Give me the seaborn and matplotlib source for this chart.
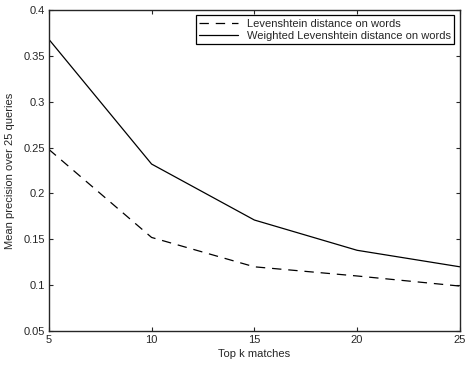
import pandas as pd
import matplotlib.pyplot as plt
import seaborn as sns

top_k = [5, 10, 15, 20, 25]
lev_words = [0.248, 0.152, 0.120, 0.110, 0.099]
weighted_lev_words = [0.368, 0.232, 0.171, 0.138, 0.120]
labels = ["Levenshtein distance on words", "Weighted Levenshtein distance on words"]

df = pd.concat([
    pd.DataFrame({"k": top_k, "precision": lev_words, "method": labels[0]}),
    pd.DataFrame({"k": top_k, "precision": weighted_lev_words, "method": labels[1]}),
])

sns.set_style("ticks")
plt.rcParams["font.family"] = ["Liberation Sans", "DejaVu Sans"]
plt.rcParams["font.size"] = 8

fig = plt.figure(figsize=(4.65, 3.67), dpi=100)
ax = fig.add_axes([0.105, 0.098, 0.884, 0.875])

sns.lineplot(data=df, x="k", y="precision", hue="method", style="method",
             palette=["black", "black"], dashes=[(7.5, 5.5), ""], linewidth=0.9, ax=ax)

ax.set_xlim(5, 25)
ax.set_ylim(0.05, 0.4)
ax.set_xticks(top_k)
ax.set_yticks([0.05, 0.1, 0.15, 0.2, 0.25, 0.3, 0.35, 0.4])
ax.set_yticklabels(["0.05", "0.1", "0.15", "0.2", "0.25", "0.3", "0.35", "0.4"])
ax.tick_params(direction="in", top=True, right=True, length=3, width=0.8, labelsize=8, pad=3)
for s in ax.spines.values():
    s.set_linewidth(1.0)
ax.set_xlabel("Top k matches", fontsize=8, labelpad=3)
ax.set_ylabel("Mean precision over 25 queries", fontsize=8, labelpad=6)

leg = ax.legend(loc="upper right", fontsize=8, frameon=True, fancybox=False,
                edgecolor="black", framealpha=1, borderaxespad=0.5,
                handlelength=3.5, labelspacing=0.2, borderpad=0.3)
leg.get_frame().set_linewidth(0.9)

fig.savefig("out.png", dpi=100)
